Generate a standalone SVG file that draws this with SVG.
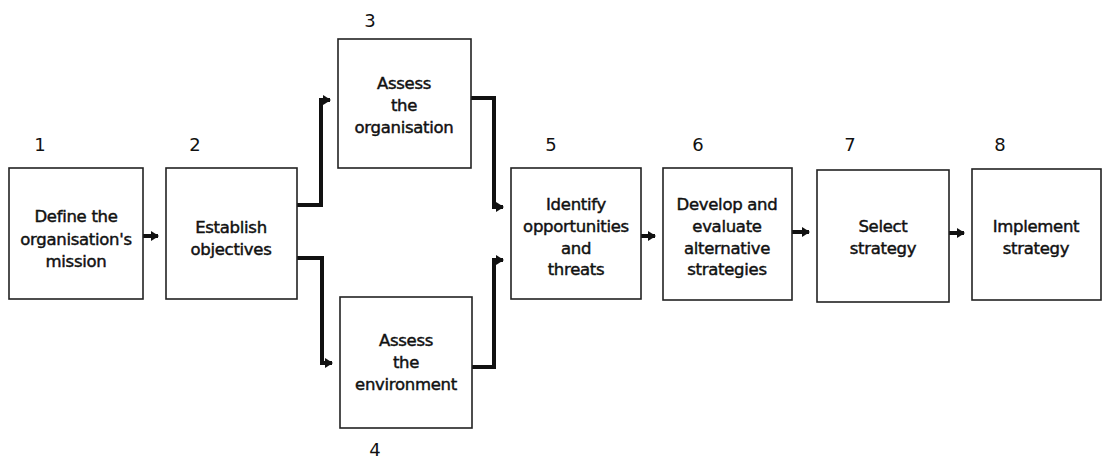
<svg xmlns="http://www.w3.org/2000/svg" width="1102" height="461" viewBox="0 0 1102 461">
<style>
.box{fill:#fff;stroke:#222;stroke-width:1.6}
.t{font-family:"DejaVu Sans",sans-serif;font-size:16.5px;fill:#111;stroke:#111;stroke-width:0.45;text-anchor:middle;letter-spacing:-0.3px}
.n{font-family:"DejaVu Sans",sans-serif;font-size:18px;fill:#111;text-anchor:middle}
.c{fill:none;stroke:#111;stroke-width:4;stroke-linejoin:miter}
</style>
<defs>
<marker id="ah" markerUnits="userSpaceOnUse" markerWidth="8" markerHeight="10" refX="7" refY="5" orient="auto">
<path d="M0,0 L8,5 L0,10 Z" fill="#111"/>
</marker>
</defs>
<rect width="1102" height="461" fill="#fff"/>
<g id="connectors">
<path class="c" d="M143,236 H158" marker-end="url(#ah)"/>
<path class="c" d="M297,205 H321 V100 H330" marker-end="url(#ah)"/>
<path class="c" d="M297,258 H322 V363 H332" marker-end="url(#ah)"/>
<path class="c" d="M471,98 H494 V207 H503" marker-end="url(#ah)"/>
<path class="c" d="M472,367 H494 V260 H503" marker-end="url(#ah)"/>
<path class="c" d="M641,236 H655" marker-end="url(#ah)"/>
<path class="c" d="M792,232 H809" marker-end="url(#ah)"/>
<path class="c" d="M949,233 H964" marker-end="url(#ah)"/>
</g>
<g id="node1">
<rect class="box" x="9" y="168" width="134" height="131"/>
<text class="n" x="40" y="151">1</text>
<text class="t" x="76" y="222">Define the</text>
<text class="t" x="76" y="245">organisation's</text>
<text class="t" x="76" y="267">mission</text>
</g>
<g id="node2">
<rect class="box" x="166" y="168" width="131" height="131"/>
<text class="n" x="195" y="151">2</text>
<text class="t" x="231" y="233">Establish</text>
<text class="t" x="231" y="255">objectives</text>
</g>
<g id="node3">
<rect class="box" x="338" y="39" width="133" height="129"/>
<text class="n" x="370" y="27">3</text>
<text class="t" x="404" y="89">Assess</text>
<text class="t" x="404" y="111">the</text>
<text class="t" x="404" y="133">organisation</text>
</g>
<g id="node4">
<rect class="box" x="340" y="297" width="132" height="131"/>
<text class="n" x="375" y="456">4</text>
<text class="t" x="406" y="346">Assess</text>
<text class="t" x="406" y="368">the</text>
<text class="t" x="406" y="390">environment</text>
</g>
<g id="node5">
<rect class="box" x="511" y="168" width="130" height="131"/>
<text class="n" x="551" y="151">5</text>
<text class="t" x="576" y="210">Identify</text>
<text class="t" x="576" y="232">opportunities</text>
<text class="t" x="576" y="254">and</text>
<text class="t" x="576" y="275">threats</text>
</g>
<g id="node6">
<rect class="box" x="663" y="168" width="129" height="132"/>
<text class="n" x="698" y="151">6</text>
<text class="t" x="727" y="210">Develop and</text>
<text class="t" x="727" y="232">evaluate</text>
<text class="t" x="727" y="254">alternative</text>
<text class="t" x="727" y="275">strategies</text>
</g>
<g id="node7">
<rect class="box" x="817" y="170" width="132" height="132"/>
<text class="n" x="850" y="151">7</text>
<text class="t" x="883" y="232">Select</text>
<text class="t" x="883" y="254">strategy</text>
</g>
<g id="node8">
<rect class="box" x="972" y="169" width="129" height="131"/>
<text class="n" x="1000" y="151">8</text>
<text class="t" x="1036" y="232">Implement</text>
<text class="t" x="1036" y="254">strategy</text>
</g>
</svg>
